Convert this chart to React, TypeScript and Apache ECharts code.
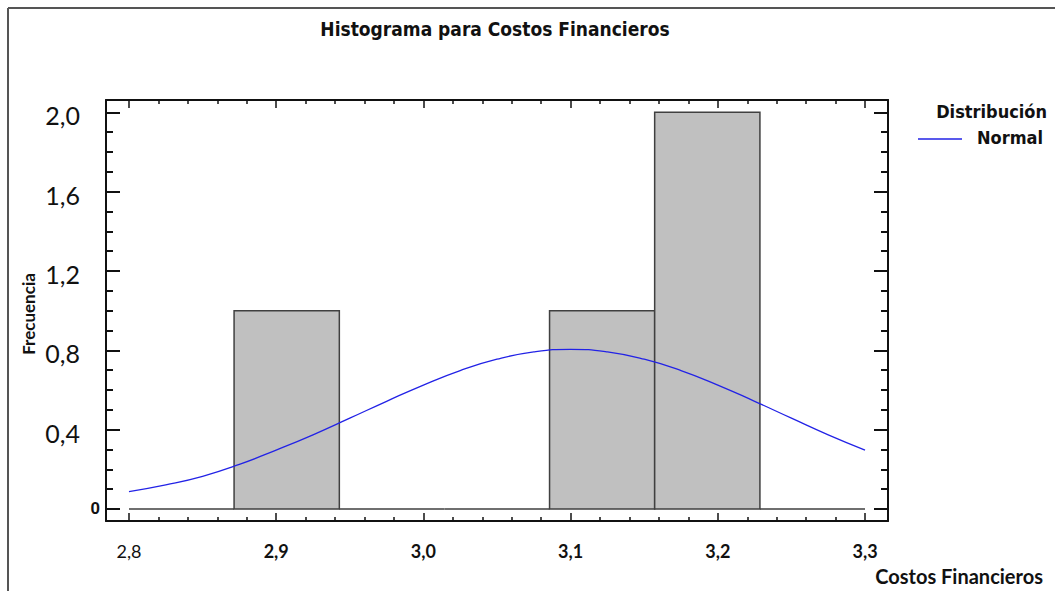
import React, { useEffect, useRef } from "react";
import * as echarts from "echarts";

// Histogram bins (Costos Financieros)
const binStart = [2.8, 2.8714, 2.9429, 3.0143, 3.0857, 3.1571, 3.2286];
const binEnd = [2.8714, 2.9429, 3.0143, 3.0857, 3.1571, 3.2286, 3.3];
const binCount = [0, 1, 0, 0, 1, 2, 0];

// Fitted normal curve
const curveX = [2.8, 2.825, 2.85, 2.875, 2.9, 2.925, 2.95, 2.975, 3.0, 3.025, 3.05, 3.075, 3.1, 3.125, 3.15, 3.175, 3.2, 3.225, 3.25, 3.275, 3.3];
const curveY = [0.088, 0.122, 0.165, 0.225, 0.297, 0.374, 0.458, 0.543, 0.625, 0.698, 0.755, 0.792, 0.805, 0.792, 0.755, 0.698, 0.625, 0.543, 0.458, 0.374, 0.297];

// Ticks
const xMajorTicks = [2.8, 2.9, 3.0, 3.1, 3.2, 3.3];
const xMinorTicks = [2.82, 2.84, 2.86, 2.88, 2.92, 2.94, 2.96, 2.98, 3.02, 3.04, 3.06, 3.08, 3.12, 3.14, 3.16, 3.18, 3.22, 3.24, 3.26, 3.28];
const yMajorTicks = [0, 0.4, 0.8, 1.2, 1.6, 2.0];
const yMinorTicks = [0.1, 0.2, 0.3, 0.5, 0.6, 0.7, 0.9, 1.0, 1.1, 1.3, 1.4, 1.5, 1.7, 1.8, 1.9];

const X_MIN = 2.7844;
const X_MAX = 3.3156;
const Y_MIN = -0.0605;
const Y_MAX = 2.062;

const LABEL_FONT = "Lato, 'Open Sans', sans-serif";
const NARROW_FONT = "'Liberation Sans Narrow', 'DejaVu Sans Condensed', 'Liberation Sans', sans-serif";
const AXIS_COLOR = "#111111";

const fmt = (v: number) => v.toFixed(1).replace(".", ",");

function xAxisDef(position: string, ticks: number[], len: number, showLine: boolean, showLabel: boolean) {
  return {
    type: "value",
    min: X_MIN,
    max: X_MAX,
    position,
    axisLine: { show: showLine, onZero: false, lineStyle: { color: AXIS_COLOR, width: 2 } },
    axisTick: { show: true, inside: true, length: len, customValues: ticks, lineStyle: { color: AXIS_COLOR, width: 1.5 } },
    axisLabel: {
      show: showLabel,
      customValues: ticks,
      margin: 21,
      formatter: (v: number) => (Math.abs(v - xMajorTicks[0]) < 1e-9 ? "{r|" + fmt(v) + "}" : "{b|" + fmt(v) + "}"),
      rich: {
        r: { fontFamily: LABEL_FONT, fontSize: 18, color: "#111", fontWeight: "normal" },
        b: { fontFamily: LABEL_FONT, fontSize: 18, color: "#111", fontWeight: "bold" },
      },
    },
    splitLine: { show: false },
  };
}

function yAxisDef(position: string, ticks: number[], len: number, showLine: boolean, showLabel: boolean) {
  return {
    type: "value",
    min: Y_MIN,
    max: Y_MAX,
    position,
    axisLine: { show: showLine, onZero: false, lineStyle: { color: AXIS_COLOR, width: 2 } },
    axisTick: { show: true, inside: true, length: len, customValues: ticks, lineStyle: { color: AXIS_COLOR, width: 2 } },
    axisLabel: {
      show: showLabel,
      customValues: ticks,
      margin: 6,
      formatter: (v: number) => (Math.abs(v) < 1e-9 ? "{z|0}" : "{n|" + fmt(v) + "}"),
      rich: {
        z: { fontFamily: "'Liberation Sans', Arial, sans-serif", fontSize: 17, fontWeight: "bold", color: "#111" },
        n: { fontFamily: LABEL_FONT, fontSize: 25, color: "#111", padding: [6, 20, 0, 0] },
      },
    },
    splitLine: { show: false },
  };
}

export default function App() {
  const ref = useRef<HTMLDivElement>(null);

  useEffect(() => {
    if (!ref.current) return;
    const chart = echarts.init(ref.current, null, { renderer: "svg" });

    const bins = binStart.map((s, i) => [s, binEnd[i], binCount[i]]);
    const curve = curveX.map((x, i) => [x, curveY[i]]);

    const option: any = {
      animation: false,
      backgroundColor: "#ffffff",
      grid: { left: 106, top: 100, width: 782, height: 421, containLabel: false },
      xAxis: [
        xAxisDef("bottom", xMajorTicks, 8, true, true),
        xAxisDef("bottom", xMinorTicks, 4, false, false),
        xAxisDef("top", xMajorTicks, 8, true, false),
        xAxisDef("top", xMinorTicks, 4, false, false),
      ],
      yAxis: [
        yAxisDef("left", yMajorTicks, 14, true, true),
        yAxisDef("left", yMinorTicks, 7, false, false),
        yAxisDef("right", yMajorTicks, 14, true, false),
        yAxisDef("right", yMinorTicks, 7, false, false),
      ],
      series: [
        {
          type: "custom",
          name: "Histograma",
          xAxisIndex: 0,
          yAxisIndex: 0,
          data: bins,
          encode: { x: [0, 1], y: 2 },
          renderItem: (params: any, api: any) => {
            const p0 = api.coord([api.value(0), api.value(2)]);
            const p1 = api.coord([api.value(1), 0]);
            return {
              type: "rect",
              shape: { x: p0[0], y: p0[1], width: p1[0] - p0[0], height: p1[1] - p0[1] },
              style: { fill: "#c0c0c0", stroke: "#404040", lineWidth: 1.5 },
            };
          },
          z: 2,
        },
        {
          type: "line",
          name: "Normal",
          xAxisIndex: 0,
          yAxisIndex: 0,
          data: curve,
          smooth: true,
          symbol: "none",
          lineStyle: { color: "#2222e6", width: 1.3 },
          z: 3,
        },
      ],
      graphic: [
        { type: "line", shape: { x1: 8, y1: 8, x2: 1055, y2: 8 }, style: { stroke: "#555", lineWidth: 2 } },
        { type: "line", shape: { x1: 8, y1: 8, x2: 8, y2: 591 }, style: { stroke: "#555", lineWidth: 2 } },
        {
          type: "text",
          x: 495,
          y: 29,
          style: {
            text: "Histograma para Costos Financieros",
            font: "bold 19px " + NARROW_FONT,
            fill: "#111",
            align: "center",
            verticalAlign: "middle",
          },
        },
        {
          type: "text",
          x: 1047,
          y: 111,
          style: { text: "Distribución", font: "bold 18px " + NARROW_FONT, fill: "#111", align: "right", verticalAlign: "middle" },
        },
        { type: "line", shape: { x1: 918, y1: 139, x2: 962, y2: 139 }, style: { stroke: "#2222e6", lineWidth: 1.5 } },
        {
          type: "text",
          x: 1043,
          y: 137,
          style: { text: "Normal", font: "bold 18px " + NARROW_FONT, fill: "#111", align: "right", verticalAlign: "middle" },
        },
        {
          type: "text",
          x: 28,
          y: 314,
          rotation: Math.PI / 2,
          style: { text: "Frecuencia", font: "bold 17px " + LABEL_FONT, fill: "#111", align: "center", verticalAlign: "middle" },
        },
        {
          type: "text",
          x: 1043,
          y: 576,
          style: { text: "Costos Financieros", font: "bold 20px " + LABEL_FONT, fill: "#111", align: "right", verticalAlign: "middle" },
        },
      ],
    };

    chart.setOption(option);
    return () => chart.dispose();
  }, []);

  return (
    <div
      ref={ref}
      style={{ position: "absolute", left: 0, top: 0, width: 1055, height: 591, background: "#fff" }}
    />
  );
}
